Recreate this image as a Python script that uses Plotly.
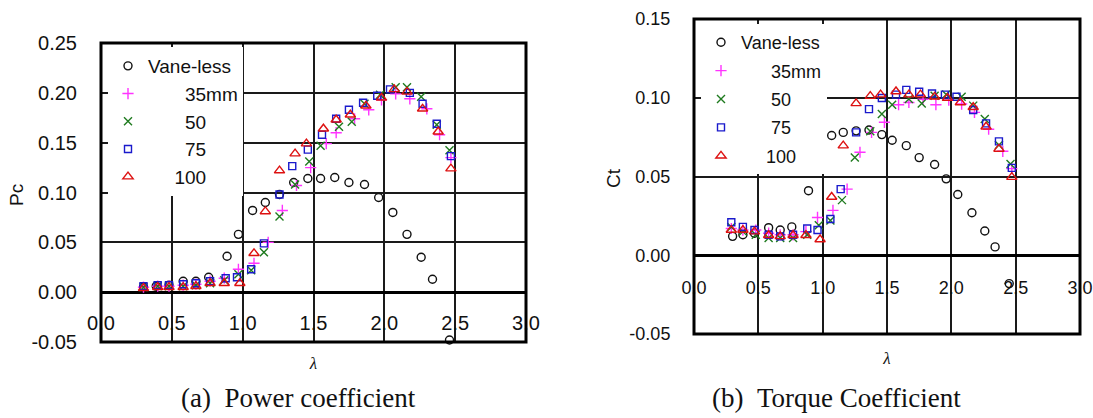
import plotly.graph_objects as go

# ---------------- data: (a) power coefficient ----------------
lam_vl_a = [0.30, 0.39, 0.48, 0.58, 0.67, 0.76, 0.89, 0.97, 1.07, 1.16, 1.26, 1.36, 1.46, 1.55, 1.65, 1.75, 1.86, 1.96, 2.06, 2.16, 2.26, 2.34, 2.46]
pc_vl = [0.005, 0.006, 0.007, 0.011, 0.011, 0.015, 0.036, 0.058, 0.082, 0.090, 0.098, 0.110, 0.114, 0.114, 0.115, 0.110, 0.108, 0.095, 0.080, 0.058, 0.035, 0.013, -0.048]

lam_35_a = [0.30, 0.40, 0.48, 0.58, 0.67, 0.77, 0.87, 0.97, 1.08, 1.18, 1.28, 1.38, 1.48, 1.59, 1.66, 1.79, 1.89, 1.98, 2.08, 2.18, 2.30, 2.39, 2.47]
pc_35 = [0.005, 0.006, 0.006, 0.007, 0.008, 0.011, 0.014, 0.023, 0.029, 0.050, 0.082, 0.107, 0.125, 0.149, 0.160, 0.174, 0.183, 0.193, 0.199, 0.194, 0.184, 0.158, 0.135]

lam_50_a = [0.30, 0.40, 0.48, 0.58, 0.67, 0.77, 0.87, 0.97, 1.06, 1.15, 1.26, 1.37, 1.47, 1.55, 1.68, 1.77, 1.86, 1.97, 2.08, 2.16, 2.26, 2.37, 2.46]
pc_50 = [0.005, 0.006, 0.006, 0.006, 0.007, 0.009, 0.012, 0.018, 0.022, 0.040, 0.076, 0.108, 0.131, 0.147, 0.166, 0.171, 0.189, 0.198, 0.2055, 0.2055, 0.196, 0.168, 0.1425]

lam_75_a = [0.30, 0.40, 0.48, 0.58, 0.67, 0.77, 0.88, 0.96, 1.06, 1.15, 1.26, 1.35, 1.46, 1.56, 1.66, 1.75, 1.85, 1.95, 2.04, 2.18, 2.27, 2.37, 2.47]
pc_75 = [0.006, 0.007, 0.007, 0.008, 0.009, 0.011, 0.014, 0.015, 0.023, 0.049, 0.098, 0.1265, 0.143, 0.158, 0.174, 0.183, 0.190, 0.197, 0.2035, 0.200, 0.189, 0.169, 0.1365]

lam_100_a = [0.30, 0.40, 0.48, 0.58, 0.67, 0.77, 0.87, 0.98, 1.08, 1.16, 1.26, 1.37, 1.45, 1.57, 1.66, 1.76, 1.87, 1.98, 2.07, 2.16, 2.27, 2.38, 2.47]
pc_100 = [0.004, 0.005, 0.005, 0.005, 0.006, 0.009, 0.009, 0.009, 0.039, 0.081, 0.122, 0.139, 0.149, 0.164, 0.173, 0.178, 0.187, 0.195, 0.2035, 0.201, 0.184, 0.161, 0.124]

# ---------------- data: (b) torque coefficient ----------------
lam_vl_b = [0.30, 0.38, 0.47, 0.58, 0.67, 0.76, 0.89, 0.98, 1.07, 1.16, 1.26, 1.36, 1.46, 1.54, 1.65, 1.75, 1.87, 1.96, 2.05, 2.16, 2.26, 2.34, 2.45]
ct_vl = [0.012, 0.013, 0.014, 0.0175, 0.016, 0.018, 0.041, 0.060, 0.076, 0.078, 0.079, 0.0795, 0.0766, 0.073, 0.0696, 0.062, 0.0576, 0.0485, 0.0386, 0.027, 0.0154, 0.0053, -0.018]

lam_35_b = [0.29, 0.38, 0.48, 0.58, 0.67, 0.77, 0.87, 0.96, 1.08, 1.19, 1.29, 1.38, 1.48, 1.59, 1.67, 1.78, 1.88, 1.98, 2.08, 2.18, 2.29, 2.40, 2.47]
ct_35 = [0.017, 0.016, 0.016, 0.014, 0.013, 0.013, 0.015, 0.024, 0.0285, 0.042, 0.0654, 0.078, 0.0844, 0.0956, 0.097, 0.099, 0.0956, 0.0985, 0.096, 0.0907, 0.080, 0.066, 0.055]

lam_50_b = [0.29, 0.38, 0.48, 0.58, 0.67, 0.77, 0.88, 0.97, 1.06, 1.15, 1.25, 1.37, 1.46, 1.54, 1.67, 1.77, 1.87, 1.96, 2.08, 2.17, 2.26, 2.37, 2.46]
ct_50 = [0.018, 0.015, 0.013, 0.011, 0.011, 0.011, 0.013, 0.019, 0.022, 0.035, 0.062, 0.0787, 0.0897, 0.0956, 0.0992, 0.0964, 0.1013, 0.102, 0.1006, 0.095, 0.0865, 0.070, 0.058]

lam_75_b = [0.29, 0.38, 0.47, 0.58, 0.67, 0.77, 0.88, 0.96, 1.06, 1.14, 1.26, 1.36, 1.46, 1.57, 1.65, 1.75, 1.85, 1.95, 2.04, 2.17, 2.27, 2.37, 2.47]
ct_75 = [0.021, 0.018, 0.016, 0.013, 0.012, 0.013, 0.017, 0.016, 0.023, 0.042, 0.078, 0.0928, 0.0998, 0.102, 0.105, 0.1038, 0.1027, 0.102, 0.1006, 0.0922, 0.0837, 0.0723, 0.0555]

lam_100_b = [0.29, 0.38, 0.47, 0.58, 0.67, 0.77, 0.87, 0.98, 1.07, 1.16, 1.26, 1.37, 1.45, 1.57, 1.67, 1.76, 1.87, 1.97, 2.07, 2.17, 2.27, 2.37, 2.47]
ct_100 = [0.016, 0.016, 0.015, 0.0127, 0.012, 0.0127, 0.0127, 0.010, 0.037, 0.0696, 0.0964, 0.101, 0.102, 0.104, 0.102, 0.102, 0.1006, 0.0998, 0.097, 0.094, 0.0816, 0.0675, 0.0496]

# ---------------- labels / ticks ----------------
series_names = ["Vane-less", "35mm", "50", "75", "100"]
x_tickvals = [0.0, 0.5, 1.0, 1.5, 2.0, 2.5, 3.0]
x_ticktext = ["0.0", "0.5", "1.0", "1.5", "2.0", "2.5", "3.0"]
ya_tickvals = [-0.05, 0.0, 0.05, 0.10, 0.15, 0.20, 0.25]
ya_ticktext = ["-0.05", "0.00", "0.05", "0.10", "0.15", "0.20", "0.25"]
yb_tickvals = [-0.05, 0.0, 0.05, 0.10, 0.15]
yb_ticktext = ["-0.05", "0.00", "0.05", "0.10", "0.15"]
ytitle_a = "Pc"
ytitle_b = "Ct"
caption_a = "(a)\u00a0\u00a0Power coefficient"
caption_b = "(b)\u00a0\u00a0Torque Coefficient"

# ---------------- styles ----------------
styles = [
    dict(symbol="circle-open", color="#111111", size=8),
    dict(symbol="cross-thin", color="#ff33ff", size=8),
    dict(symbol="x-thin", color="#1e7a1e", size=8),
    dict(symbol="square-open", color="#1a1acc", size=7),
    dict(symbol="triangle-up-open", color="#dd1111", size=9),
]
pad_a = ["", "\u00a0" * 7, "\u00a0" * 7, "\u00a0" * 7, "\u00a0" * 5]
pad_b = ["", "\u00a0" * 6, "\u00a0" * 6, "\u00a0" * 6, "\u00a0" * 5]

data_a = [(lam_vl_a, pc_vl), (lam_35_a, pc_35), (lam_50_a, pc_50), (lam_75_a, pc_75), (lam_100_a, pc_100)]
data_b = [(lam_vl_b, ct_vl), (lam_35_b, ct_35), (lam_50_b, ct_50), (lam_75_b, ct_75), (lam_100_b, ct_100)]

fig = go.Figure()
for i, (xs, ys) in enumerate(data_a):
    st = styles[i]
    fig.add_trace(go.Scatter(
        x=xs, y=ys, mode="markers", name=pad_a[i] + series_names[i],
        xaxis="x", yaxis="y", legend="legend", legendgroup="a%d" % i,
        marker=dict(symbol=st["symbol"], size=st["size"], color=st["color"],
                    line=dict(color=st["color"], width=1.4)),
        cliponaxis=False,
    ))
for i, (xs, ys) in enumerate(data_b):
    st = styles[i]
    fig.add_trace(go.Scatter(
        x=xs, y=ys, mode="markers", name=pad_b[i] + series_names[i],
        xaxis="x2", yaxis="y2", legend="legend2", legendgroup="b%d" % i,
        marker=dict(symbol=st["symbol"], size=st["size"], color=st["color"],
                    line=dict(color=st["color"], width=1.4)),
        cliponaxis=False,
    ))

sans = "Arial, Liberation Sans, sans-serif"
serif = "Times New Roman, Liberation Serif, serif"
grid = "#1a1a1a"

def xaxis_cfg(domain, pos, fsize, standoff):
    return dict(
        domain=domain, range=[0, 3], anchor="free", position=pos, automargin=False,
        tickmode="array", tickvals=x_tickvals, ticktext=x_ticktext,
        showgrid=True, gridcolor=grid, gridwidth=1.6, zeroline=False,
        showline=False, ticks="", tickfont=dict(family=sans, size=fsize, color="#111"),
        title=dict(text="<i>λ</i>", font=dict(family=serif, size=17, color="#111"), standoff=standoff),
        fixedrange=True,
    )

def yaxis_cfg(domain, rng, tv, tt, anchor, fsize):
    return dict(
        domain=domain, range=rng, anchor=anchor, automargin=False,
        tickmode="array", tickvals=tv, ticktext=tt,
        showgrid=True, gridcolor=grid, gridwidth=1.6,
        zeroline=True, zerolinecolor="#000", zerolinewidth=3,
        showline=False, ticks="outside", ticklen=19, tickcolor="rgba(0,0,0,0)",
        tickfont=dict(family=sans, size=fsize, color="#111"),
        fixedrange=True,
    )

def side_title(text, xpx, ypx):
    return dict(text=text, xref="paper", yref="paper", x=xpx / 1093, y=(418 - ypx) / 418,
                xanchor="center", yanchor="middle", showarrow=False, textangle=-90,
                font=dict(family=sans, size=19, color="#111"))

def caption(text, xpx, ypx):
    return dict(text=text, xref="paper", yref="paper", x=xpx / 1093, y=(418 - ypx) / 418,
                xanchor="center", yanchor="middle", showarrow=False,
                font=dict(family=serif, size=27, color="#111"))

fig.update_layout(
    width=1093, height=418,
    margin=dict(l=0, r=0, t=0, b=0),
    paper_bgcolor="white", plot_bgcolor="white",
    xaxis=xaxis_cfg([101 / 1093, 526 / 1093], (418 - 309) / 418, 20, 24),
    yaxis=yaxis_cfg([(418 - 342) / 418, (418 - 43) / 418], [-0.05, 0.25], ya_tickvals, ya_ticktext, "x", 20),
    xaxis2=xaxis_cfg([694 / 1093, 1080 / 1093], (418 - 275) / 418, 18, 55),
    yaxis2=yaxis_cfg([(418 - 334) / 418, (418 - 19) / 418], [-0.05, 0.15], yb_tickvals, yb_ticktext, "x2", 18),
    legend=dict(x=108 / 1093, y=(418 - 47) / 418, xanchor="left", yanchor="top",
                bgcolor="white", borderwidth=0, font=dict(family=sans, size=19, color="#111"),
                tracegroupgap=0, itemwidth=30),
    legend2=dict(x=701 / 1093, y=(418 - 24) / 418, xanchor="left", yanchor="top",
                 bgcolor="white", borderwidth=0, font=dict(family=sans, size=18, color="#111"),
                 tracegroupgap=2, itemwidth=30),
    shapes=[
        dict(type="rect", xref="x domain", yref="y domain", x0=0, x1=1, y0=0, y1=1,
             line=dict(color="#000", width=3), layer="above"),
        dict(type="rect", xref="x2 domain", yref="y2 domain", x0=0, x1=1, y0=0, y1=1,
             line=dict(color="#000", width=3), layer="above"),
    ],
    annotations=[
        side_title(ytitle_a, 16, 195),
        side_title(ytitle_b, 613, 178),
        caption(caption_a, 298, 398),
        caption(caption_b, 836, 398),
    ],
)

fig.write_html("out.html")
